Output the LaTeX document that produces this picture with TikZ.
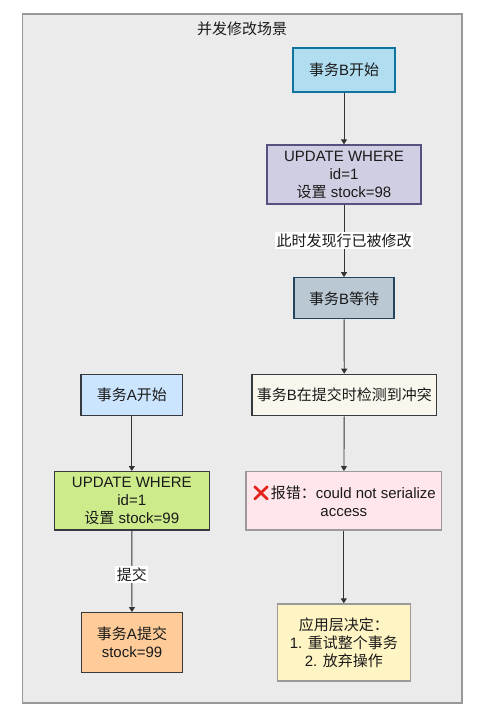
\documentclass[tikz,border=0pt]{standalone}
\usepackage{fontspec}
\setmainfont{Liberation Sans}
\newfontfamily\cjk{Noto Sans CJK SC}
\newfontfamily\emo{Noto Emoji}
\newcommand\zh[1]{{\cjk #1}}
\usetikzlibrary{arrows.meta}
\definecolor{bgfill}{HTML}{EBEBEB}
\definecolor{bgdraw}{HTML}{999999}
\definecolor{bsfill}{HTML}{B1DDF0}
\definecolor{bsdraw}{HTML}{10739E}
\definecolor{bufill}{HTML}{D0CEE2}
\definecolor{budraw}{HTML}{56517E}
\definecolor{bwfill}{HTML}{BAC8D3}
\definecolor{bwdraw}{HTML}{23445D}
\definecolor{bdfill}{HTML}{F9F7ED}
\definecolor{darkdraw}{HTML}{36393D}
\definecolor{befill}{HTML}{FFE6EA}
\definecolor{grdraw}{HTML}{9A9A9A}
\definecolor{bafill}{HTML}{FFF4C3}
\definecolor{asfill}{HTML}{CCE5FF}
\definecolor{aufill}{HTML}{CDEB8B}
\definecolor{acfill}{HTML}{FFCC99}
\definecolor{txt}{HTML}{1A1A1A}
\definecolor{xred}{HTML}{E2231A}
\begin{document}
\begin{tikzpicture}[x=1pt,y=-1pt,
  every node/.style={font=\fontsize{15}{18}\selectfont, text=txt},
  box/.style={draw, line width=1.3pt, inner sep=0pt, align=center},
  conn/.style={draw=black!80, line width=0.9pt, -{Triangle[length=5pt,width=6pt]}},
  elabel/.style={fill=white, inner sep=1.5pt}
]
\useasboundingbox (0,0) rectangle (479,720);
\draw[fill=bgfill, draw=bgdraw, line width=1.3pt] (22.3,14) rectangle (462,703);
\node (title) at (242,28.5) {\zh{并发修改场景}};

\node[box, fill=bsfill, draw=bsdraw, minimum width=102pt, minimum height=44pt] (bs) at (344,70) {\zh{事务}B\zh{开始}};
\node[box, fill=bufill, draw=budraw, minimum width=154pt, minimum height=59pt] (bu) at (344,174.5) {UPDATE WHERE\\id=1\\\zh{设置} stock=98};
\node[box, fill=bwfill, draw=bwdraw, minimum width=100pt, minimum height=41pt] (bw) at (344,298.3) {\zh{事务}B\zh{等待}};
\node[box, fill=bdfill, draw=darkdraw, minimum width=184.7pt, minimum height=41.3pt] (bd) at (344.3,395) {\zh{事务}B\zh{在提交时检测到冲突}};
\node[box, fill=befill, draw=grdraw, minimum width=195.7pt, minimum height=58.3pt] (be) at (343.8,500.8) {{\emo\color{xred}❌}\zh{报错：}could not serialize\\access};
\node[box, fill=bafill, draw=grdraw, minimum width=133pt, minimum height=77pt] (ba) at (343.8,642.5) {\zh{应用层决定：}\\1. \zh{重试整个事务}\\2. \zh{放弃操作}};

\node[box, fill=asfill, draw=darkdraw, minimum width=101.7pt, minimum height=41.3pt] (as) at (131.8,395) {\zh{事务}A\zh{开始}};
\node[box, fill=aufill, draw=darkdraw, minimum width=155pt, minimum height=58.3pt] (au) at (131.8,500.8) {UPDATE WHERE\\id=1\\\zh{设置} stock=99};
\node[box, fill=acfill, draw=darkdraw, minimum width=101.3pt, minimum height=59.6pt] (ac) at (132,642.5) {\zh{事务}A\zh{提交}\\stock=99};

\draw[conn] (bs) -- (bu);
\draw[conn] (bu) -- node[elabel] (l1) {\zh{此时发现行已被修改}} (bw);
\draw[conn] (bw) -- (bd);
\draw[conn] (bd) -- (be);
\draw[conn] (be) -- (ba);
\draw[conn] (as) -- (au);
\draw[conn] (au) -- node[elabel, pos=0.54] (l2) {\zh{提交}} (ac);
\end{tikzpicture}
\end{document}
